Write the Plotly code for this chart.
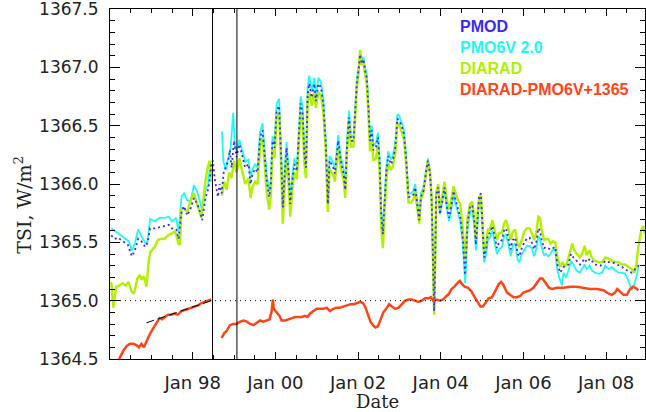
import plotly.graph_objects as go

# ---------------- data (fractional years, TSI in W/m^2) ----------------
pmod_years = [1996.03, 1996.11, 1996.19, 1996.27, 1996.35, 1996.43, 1996.53, 1996.60, 1996.68, 1996.76,
              1996.85, 1996.91, 1996.97, 1997.08, 1997.20, 1997.32, 1997.42, 1997.50, 1997.60, 1997.66,
              1997.73, 1997.79, 1997.87, 1997.95, 1998.03, 1998.11, 1998.19, 1998.23, 1998.31, 1998.37,
              1998.41, 1998.45, 1998.49, 1998.53, 1998.57, 1998.61, 1998.65, 1998.70, 1998.75, 1998.81,
              1998.86, 1998.90, 1998.94, 1999.00, 1999.06, 1999.13, 1999.19, 1999.27, 1999.35, 1999.40,
              1999.45, 1999.51, 1999.57, 1999.63, 1999.69, 1999.73, 1999.79, 1999.85, 1999.89, 1999.93,
              1999.98, 2000.03, 2000.09, 2000.14, 2000.18, 2000.23, 2000.27, 2000.32, 2000.36, 2000.41,
              2000.46, 2000.52, 2000.57, 2000.61, 2000.66, 2000.70, 2000.74, 2000.78, 2000.82, 2000.88,
              2000.94, 2000.98, 2001.04, 2001.10, 2001.16, 2001.22, 2001.27, 2001.31, 2001.36, 2001.40,
              2001.44, 2001.48, 2001.52, 2001.58, 2001.65, 2001.69, 2001.73, 2001.78, 2001.83, 2001.89,
              2001.93, 2001.97, 2002.01, 2002.05, 2002.09, 2002.13, 2002.17, 2002.21, 2002.25, 2002.29,
              2002.33, 2002.37, 2002.43, 2002.48, 2002.52, 2002.56, 2002.60, 2002.64, 2002.68, 2002.73,
              2002.79, 2002.84, 2002.90, 2002.95, 2003.00, 2003.06, 2003.11, 2003.16, 2003.22, 2003.28,
              2003.34, 2003.38, 2003.42, 2003.48, 2003.52, 2003.58, 2003.64, 2003.69, 2003.74, 2003.78,
              2003.82, 2003.84, 2003.86, 2003.89, 2003.94, 2003.98, 2004.04, 2004.09, 2004.15, 2004.20,
              2004.25, 2004.31, 2004.36, 2004.43, 2004.47, 2004.53, 2004.59, 2004.65, 2004.71, 2004.76,
              2004.81, 2004.85, 2004.89, 2004.93, 2004.97, 2005.01, 2005.05, 2005.10, 2005.14, 2005.19,
              2005.25, 2005.30, 2005.36, 2005.41, 2005.48, 2005.53, 2005.58, 2005.64, 2005.69, 2005.74,
              2005.80, 2005.86, 2005.90, 2005.96, 2006.02, 2006.08, 2006.15, 2006.20, 2006.26, 2006.31,
              2006.36, 2006.40, 2006.44, 2006.50, 2006.55, 2006.60, 2006.65, 2006.77, 2006.82, 2006.89,
              2006.97, 2007.09, 2007.15, 2007.21, 2007.29, 2007.37, 2007.48, 2007.53, 2007.61, 2007.73,
              2007.86, 2007.98, 2008.06, 2008.14, 2008.26, 2008.38, 2008.50, 2008.62, 2008.70, 2008.78,
              2008.86]
pmod = [1365.56, 1365.53, 1365.54, 1365.52, 1365.50, 1365.48, 1365.38, 1365.43, 1365.53, 1365.51,
        1365.46, 1365.50, 1365.62, 1365.62, 1365.63, 1365.64, 1365.65, 1365.62, 1365.61, 1365.53,
        1365.76, 1365.81, 1365.73, 1365.79, 1365.88, 1365.83, 1365.75, 1365.69, 1365.88, 1365.95,
        1366.03, 1366.18, 1366.20, 1366.05, 1365.95, 1365.89, 1366.00, 1365.92, 1366.10, 1366.15,
        1366.20, 1366.29, 1366.14, 1366.37, 1366.23, 1366.34, 1366.26, 1366.14, 1366.17, 1366.00,
        1366.09, 1366.13, 1366.10, 1366.40, 1366.46, 1366.31, 1366.03, 1365.89, 1366.00, 1366.37,
        1366.31, 1366.63, 1366.67, 1366.23, 1365.80, 1366.11, 1366.31, 1366.09, 1365.83, 1366.03,
        1366.17, 1366.11, 1366.43, 1366.69, 1366.60, 1366.26, 1366.14, 1366.77, 1366.86, 1366.74,
        1366.86, 1366.71, 1366.86, 1366.83, 1366.69, 1366.34, 1365.83, 1366.20, 1366.17, 1366.14,
        1366.09, 1366.23, 1366.37, 1366.20, 1366.09, 1365.95, 1366.31, 1366.57, 1366.37, 1366.37,
        1366.66, 1366.86, 1366.97, 1367.11, 1367.03, 1367.07, 1366.97, 1366.91, 1366.66, 1366.37,
        1366.46, 1366.29, 1366.31, 1366.40, 1366.20, 1365.74, 1365.57, 1365.89, 1366.09, 1366.24,
        1366.17, 1366.20, 1366.31, 1366.56, 1366.54, 1366.49, 1366.43, 1366.23, 1365.89, 1365.89,
        1365.91, 1365.97, 1365.86, 1365.69, 1365.89, 1365.94, 1366.09, 1366.20, 1366.09, 1365.86,
        1365.23, 1364.91, 1365.23, 1365.91, 1365.97, 1365.74, 1365.86, 1365.97, 1365.80, 1365.71,
        1365.80, 1365.94, 1365.86, 1365.77, 1365.72, 1365.55, 1365.22, 1365.68, 1365.80, 1365.82,
        1365.68, 1365.48, 1365.73, 1365.90, 1365.92, 1365.62, 1365.37, 1365.45, 1365.57, 1365.58,
        1365.64, 1365.56, 1365.45, 1365.50, 1365.52, 1365.60, 1365.62, 1365.53, 1365.44, 1365.52,
        1365.54, 1365.40, 1365.38, 1365.45, 1365.50, 1365.53, 1365.54, 1365.50, 1365.44, 1365.50,
        1365.62, 1365.60, 1365.52, 1365.45, 1365.46, 1365.45, 1365.44, 1365.46, 1365.31, 1365.24,
        1365.29, 1365.31, 1365.40, 1365.37, 1365.34, 1365.31, 1365.36, 1365.33, 1365.36, 1365.31,
        1365.30, 1365.34, 1365.33, 1365.33, 1365.31, 1365.29, 1365.26, 1365.24, 1365.27, 1365.30,
        1365.30]

pmo6v_years = [1996.03, 1996.11, 1996.19, 1996.27, 1996.35, 1996.45, 1996.53, 1996.60, 1996.68, 1996.76,
               1996.85, 1996.90, 1996.97, 1997.08, 1997.20, 1997.32, 1997.42, 1997.50, 1997.60, 1997.66,
               1997.73, 1997.79, 1997.87, 1997.95, 1998.03, 1998.11, 1998.19, 1998.23, 1998.31, 1998.37,
               1998.41, 1998.47, 1998.60, 1998.71, 1998.74, 1998.80, 1998.86, 1998.92, 1998.98, 1999.02,
               1999.06, 1999.13, 1999.19, 1999.27, 1999.35, 1999.40, 1999.45, 1999.51, 1999.57, 1999.63,
               1999.69, 1999.73, 1999.79, 1999.85, 1999.89, 1999.93, 1999.98, 2000.03, 2000.09, 2000.14,
               2000.18, 2000.23, 2000.27, 2000.32, 2000.36, 2000.41, 2000.46, 2000.52, 2000.57, 2000.61,
               2000.66, 2000.70, 2000.74, 2000.78, 2000.82, 2000.88, 2000.94, 2000.98, 2001.04, 2001.10,
               2001.16, 2001.22, 2001.27, 2001.31, 2001.36, 2001.40, 2001.44, 2001.48, 2001.52, 2001.58,
               2001.65, 2001.69, 2001.73, 2001.78, 2001.83, 2001.89, 2001.93, 2001.97, 2002.01, 2002.05,
               2002.09, 2002.13, 2002.17, 2002.21, 2002.25, 2002.29, 2002.33, 2002.37, 2002.43, 2002.48,
               2002.52, 2002.56, 2002.60, 2002.64, 2002.68, 2002.73, 2002.79, 2002.84, 2002.90, 2002.95,
               2003.00, 2003.06, 2003.11, 2003.16, 2003.22, 2003.28, 2003.34, 2003.38, 2003.42, 2003.48,
               2003.52, 2003.58, 2003.64, 2003.69, 2003.74, 2003.78, 2003.82, 2003.84, 2003.86, 2003.89,
               2003.94, 2003.98, 2004.04, 2004.09, 2004.15, 2004.20, 2004.25, 2004.31, 2004.36, 2004.43,
               2004.47, 2004.53, 2004.59, 2004.65, 2004.71, 2004.76, 2004.81, 2004.85, 2004.89, 2004.93,
               2004.97, 2005.01, 2005.05, 2005.10, 2005.14, 2005.19, 2005.25, 2005.30, 2005.36, 2005.41,
               2005.48, 2005.53, 2005.58, 2005.64, 2005.69, 2005.74, 2005.80, 2005.86, 2005.90, 2005.96,
               2006.02, 2006.08, 2006.15, 2006.20, 2006.26, 2006.31, 2006.36, 2006.40, 2006.44, 2006.50,
               2006.55, 2006.60, 2006.65, 2006.71, 2006.77, 2006.82, 2006.89, 2006.93, 2006.97, 2007.03,
               2007.09, 2007.15, 2007.21, 2007.28, 2007.36, 2007.42, 2007.48, 2007.53, 2007.60, 2007.65,
               2007.73, 2007.82, 2007.90, 2007.98, 2008.06, 2008.14, 2008.22, 2008.30, 2008.38, 2008.46,
               2008.54, 2008.62, 2008.68, 2008.73, 2008.78]
pmo6v = [1365.62, 1365.60, 1365.58, 1365.56, 1365.54, 1365.51, 1365.43, 1365.49, 1365.61, 1365.55,
         1365.50, 1365.49, 1365.70, 1365.68, 1365.71, 1365.71, 1365.72, 1365.68, 1365.71, 1365.59,
         1365.89, 1365.92, 1365.86, 1365.85, 1365.99, 1365.93, 1365.83, 1365.76, 1365.95, 1365.99,
         1366.12, 1366.02, None, 1366.45, 1366.20, 1366.12, 1366.22, 1366.32, 1366.61, 1366.33,
         1366.28, 1366.38, 1366.30, 1366.19, 1366.21, 1366.05, 1366.13, 1366.17, 1366.14, 1366.45,
         1366.52, 1366.35, 1366.08, 1365.94, 1366.04, 1366.41, 1366.35, 1366.69, 1366.73, 1366.27,
         1365.85, 1366.15, 1366.36, 1366.13, 1365.87, 1366.07, 1366.22, 1366.15, 1366.48, 1366.75,
         1366.65, 1366.30, 1366.18, 1366.82, 1366.93, 1366.79, 1366.91, 1366.76, 1366.91, 1366.88,
         1366.73, 1366.38, 1365.87, 1366.24, 1366.21, 1366.18, 1366.13, 1366.27, 1366.42, 1366.24,
         1366.13, 1365.99, 1366.36, 1366.63, 1366.41, 1366.41, 1366.70, 1366.90, 1367.00, 1367.13,
         1367.06, 1367.09, 1367.00, 1366.94, 1366.70, 1366.41, 1366.50, 1366.33, 1366.35, 1366.44,
         1366.24, 1365.78, 1365.61, 1365.93, 1366.13, 1366.28, 1366.21, 1366.24, 1366.35, 1366.60,
         1366.58, 1366.52, 1366.46, 1366.26, 1365.92, 1365.92, 1365.94, 1366.00, 1365.89, 1365.72,
         1365.92, 1365.97, 1366.11, 1366.22, 1366.10, 1365.87, 1365.24, 1364.93, 1365.24, 1365.92,
         1365.98, 1365.74, 1365.85, 1365.96, 1365.78, 1365.68, 1365.77, 1365.91, 1365.83, 1365.73,
         1365.68, 1365.50, 1365.15, 1365.62, 1365.76, 1365.78, 1365.64, 1365.43, 1365.70, 1365.86,
         1365.88, 1365.58, 1365.33, 1365.40, 1365.52, 1365.54, 1365.60, 1365.50, 1365.40, 1365.44,
         1365.46, 1365.55, 1365.57, 1365.48, 1365.38, 1365.47, 1365.49, 1365.35, 1365.33, 1365.40,
         1365.44, 1365.47, 1365.47, 1365.45, 1365.38, 1365.44, 1365.55, 1365.53, 1365.46, 1365.39,
         1365.40, 1365.38, 1365.40, 1365.44, 1365.43, 1365.26, 1365.17, 1365.13, 1365.24, 1365.20,
         1365.26, 1365.34, 1365.31, 1365.26, 1365.24, 1365.27, 1365.31, 1365.27, 1365.30, 1365.26,
         1365.24, 1365.23, 1365.24, 1365.30, 1365.27, 1365.29, 1365.26, 1365.24, 1365.24, 1365.23,
         1365.17, 1365.09, 1365.14, 1365.20, 1365.29]

diarad_years = [1996.03, 1996.08, 1996.15, 1996.23, 1996.31, 1996.38, 1996.45, 1996.52, 1996.58, 1996.66,
                1996.72, 1996.77, 1996.82, 1996.88, 1996.94, 1996.98, 1997.08, 1997.16, 1997.24, 1997.32,
                1997.40, 1997.48, 1997.55, 1997.60, 1997.65, 1997.69, 1997.73, 1997.79, 1997.87, 1997.95,
                1998.03, 1998.09, 1998.17, 1998.21, 1998.29, 1998.35, 1998.41, 1998.46, 1998.60, 1998.71,
                1998.76, 1998.82, 1998.88, 1998.94, 1999.00, 1999.06, 1999.13, 1999.19, 1999.27, 1999.35,
                1999.40, 1999.45, 1999.51, 1999.57, 1999.63, 1999.69, 1999.73, 1999.79, 1999.85, 1999.89,
                1999.93, 1999.98, 2000.03, 2000.09, 2000.14, 2000.18, 2000.23, 2000.27, 2000.32, 2000.36,
                2000.41, 2000.46, 2000.52, 2000.57, 2000.61, 2000.66, 2000.70, 2000.74, 2000.78, 2000.82,
                2000.88, 2000.94, 2000.98, 2001.04, 2001.10, 2001.16, 2001.22, 2001.27, 2001.31, 2001.36,
                2001.40, 2001.44, 2001.48, 2001.52, 2001.58, 2001.65, 2001.69, 2001.73, 2001.78, 2001.83,
                2001.89, 2001.93, 2001.97, 2002.01, 2002.05, 2002.09, 2002.13, 2002.17, 2002.21, 2002.25,
                2002.29, 2002.33, 2002.37, 2002.43, 2002.48, 2002.52, 2002.56, 2002.60, 2002.64, 2002.68,
                2002.73, 2002.79, 2002.84, 2002.90, 2002.95, 2003.00, 2003.06, 2003.11, 2003.16, 2003.22,
                2003.28, 2003.34, 2003.38, 2003.42, 2003.48, 2003.52, 2003.58, 2003.64, 2003.69, 2003.74,
                2003.78, 2003.82, 2003.84, 2003.86, 2003.89, 2003.94, 2003.98, 2004.04, 2004.09, 2004.15,
                2004.20, 2004.25, 2004.31, 2004.36, 2004.43, 2004.47, 2004.53, 2004.59, 2004.65, 2004.71,
                2004.76, 2004.81, 2004.85, 2004.89, 2004.93, 2004.97, 2005.01, 2005.05, 2005.10, 2005.14,
                2005.19, 2005.25, 2005.30, 2005.36, 2005.41, 2005.48, 2005.53, 2005.58, 2005.64, 2005.69,
                2005.74, 2005.80, 2005.86, 2005.90, 2005.96, 2006.02, 2006.08, 2006.15, 2006.20, 2006.26,
                2006.31, 2006.36, 2006.40, 2006.44, 2006.50, 2006.55, 2006.60, 2006.65, 2006.71, 2006.77,
                2006.82, 2006.89, 2006.95, 2007.01, 2007.07, 2007.13, 2007.18, 2007.23, 2007.29, 2007.36,
                2007.42, 2007.48, 2007.53, 2007.60, 2007.65, 2007.73, 2007.82, 2007.90, 2007.98, 2008.06,
                2008.14, 2008.22, 2008.30, 2008.38, 2008.46, 2008.54, 2008.62, 2008.68, 2008.73, 2008.78,
                2008.84, 2008.89, 2008.94]
diarad = [1365.16, 1364.94, 1365.12, 1365.13, 1365.15, 1365.13, 1365.16, 1365.08, 1365.06, 1365.19,
          1365.22, 1365.18, 1365.21, 1365.12, 1365.35, 1365.42, 1365.46, 1365.52, 1365.53, 1365.53,
          1365.56, 1365.58, 1365.59, 1365.57, 1365.49, 1365.48, 1365.79, 1365.79, 1365.76, 1365.86,
          1365.92, 1365.85, 1365.76, 1365.71, 1365.98, 1366.12, 1366.20, 1366.05, None, 1365.90,
          1366.02, 1365.95, 1366.10, 1366.05, 1366.20, 1366.10, 1366.22, 1366.12, 1366.00, 1366.05,
          1365.88, 1365.98, 1366.02, 1366.00, 1366.32, 1366.40, 1366.24, 1365.93, 1365.78, 1365.90,
          1366.30, 1366.22, 1366.57, 1366.61, 1366.15, 1365.66, 1366.02, 1366.24, 1366.00, 1365.72,
          1365.95, 1366.10, 1366.04, 1366.37, 1366.62, 1366.53, 1366.18, 1366.05, 1366.70, 1366.79,
          1366.67, 1366.79, 1366.65, 1366.79, 1366.76, 1366.62, 1366.27, 1365.76, 1366.13, 1366.10,
          1366.08, 1366.02, 1366.17, 1366.31, 1366.14, 1366.03, 1365.88, 1366.25, 1366.52, 1366.32,
          1366.32, 1366.62, 1366.82, 1366.95, 1367.15, 1367.02, 1367.05, 1366.94, 1366.86, 1366.60,
          1366.28, 1366.38, 1366.20, 1366.22, 1366.33, 1366.12, 1365.62, 1365.45, 1365.80, 1366.02,
          1366.18, 1366.12, 1366.15, 1366.26, 1366.52, 1366.50, 1366.44, 1366.38, 1366.18, 1365.84,
          1365.84, 1365.87, 1365.94, 1365.82, 1365.66, 1365.87, 1365.93, 1366.08, 1366.20, 1366.10,
          1365.88, 1365.20, 1364.88, 1365.22, 1365.93, 1366.00, 1365.78, 1365.90, 1366.02, 1365.86,
          1365.78, 1365.86, 1365.98, 1365.92, 1365.85, 1365.83, 1365.63, 1365.35, 1365.72, 1365.83,
          1365.85, 1365.72, 1365.52, 1365.75, 1365.89, 1365.91, 1365.69, 1365.41, 1365.49, 1365.61,
          1365.61, 1365.69, 1365.61, 1365.52, 1365.58, 1365.58, 1365.66, 1365.69, 1365.61, 1365.52,
          1365.59, 1365.61, 1365.48, 1365.46, 1365.52, 1365.59, 1365.62, 1365.62, 1365.58, 1365.52,
          1365.58, 1365.72, 1365.71, 1365.61, 1365.52, 1365.53, 1365.53, 1365.49, 1365.51, 1365.50,
          1365.37, 1365.29, 1365.33, 1365.29, 1365.34, 1365.43, 1365.49, 1365.43, 1365.40, 1365.37,
          1365.40, 1365.47, 1365.39, 1365.43, 1365.37, 1365.34, 1365.33, 1365.33, 1365.37, 1365.36,
          1365.34, 1365.33, 1365.33, 1365.31, 1365.31, 1365.29, 1365.27, 1365.24, 1365.31, 1365.46,
          1365.59, 1365.64, 1365.57]

diff_years = [1996.05, 1996.24, 1996.32, 1996.40, 1996.48, 1996.56, 1996.64, 1996.70, 1996.76, 1996.82,
              1996.88, 1996.96, 1997.04, 1997.12, 1997.20, 1997.26, 1997.32, 1997.40, 1997.48, 1997.56,
              1997.64, 1997.73, 1997.81, 1997.89, 1997.97, 1998.05, 1998.13, 1998.21, 1998.29, 1998.37,
              1998.45, 1998.60, 1998.70, 1998.76, 1998.82, 1998.90, 1998.98, 1999.06, 1999.15, 1999.23,
              1999.31, 1999.39, 1999.47, 1999.55, 1999.63, 1999.71, 1999.79, 1999.86, 1999.91, 1999.94,
              1999.96, 2000.03, 2000.10, 2000.15, 2000.24, 2000.32, 2000.40, 2000.48, 2000.56, 2000.64,
              2000.72, 2000.78, 2000.84, 2000.92, 2001.00, 2001.08, 2001.16, 2001.24, 2001.32, 2001.40,
              2001.48, 2001.56, 2001.64, 2001.73, 2001.82, 2001.90, 2001.98, 2002.05, 2002.12, 2002.18,
              2002.24, 2002.30, 2002.36, 2002.42, 2002.48, 2002.54, 2002.61, 2002.68, 2002.75, 2002.82,
              2002.90, 2002.98, 2003.06, 2003.14, 2003.22, 2003.30, 2003.38, 2003.46, 2003.54, 2003.62,
              2003.70, 2003.76, 2003.82, 2003.90, 2003.98, 2004.06, 2004.14, 2004.20, 2004.26, 2004.33,
              2004.40, 2004.46, 2004.52, 2004.58, 2004.66, 2004.74, 2004.82, 2004.90, 2004.96, 2005.02,
              2005.08, 2005.16, 2005.24, 2005.32, 2005.40, 2005.46, 2005.52, 2005.60, 2005.68, 2005.76,
              2005.84, 2005.92, 2006.00, 2006.08, 2006.16, 2006.24, 2006.32, 2006.40, 2006.46, 2006.54,
              2006.62, 2006.70, 2006.81, 2006.97, 2007.13, 2007.29, 2007.45, 2007.61, 2007.78, 2007.94,
              2008.06, 2008.14, 2008.22, 2008.27, 2008.33, 2008.42, 2008.50, 2008.58, 2008.65, 2008.71,
              2008.78]
diff = [1364.38, 1364.51, 1364.57, 1364.61, 1364.63, 1364.63, 1364.62, 1364.60, 1364.63, 1364.60,
        1364.65, 1364.71, 1364.76, 1364.80, 1364.85, 1364.84, 1364.86, 1364.88, 1364.88, 1364.89,
        1364.88, 1364.91, 1364.92, 1364.93, 1364.94, 1364.95, 1364.96, 1364.98, 1364.99, 1365.00,
        1365.01, None, 1364.68, 1364.72, 1364.74, 1364.79, 1364.80, 1364.80, 1364.82, 1364.83,
        1364.82, 1364.80, 1364.79, 1364.81, 1364.83, 1364.82, 1364.83, 1364.84, 1364.91, 1365.01,
        1364.93, 1364.90, 1364.87, 1364.83, 1364.83, 1364.84, 1364.85, 1364.86, 1364.86, 1364.86,
        1364.87, 1364.86, 1364.89, 1364.91, 1364.93, 1364.93, 1364.93, 1364.94, 1364.91, 1364.93,
        1364.94, 1364.94, 1364.95, 1364.96, 1364.97, 1364.97, 1364.98, 1364.99, 1364.98, 1364.94,
        1364.88, 1364.82, 1364.79, 1364.77, 1364.78, 1364.83, 1364.90, 1364.93, 1364.97, 1364.95,
        1364.93, 1364.94, 1364.97, 1365.00, 1365.01, 1365.01, 1365.00, 1364.99, 1365.00, 1365.02,
        1365.02, 1365.03, 1365.00, 1365.01, 1365.00, 1365.01, 1365.04, 1365.06, 1365.10, 1365.12,
        1365.15, 1365.17, 1365.14, 1365.12, 1365.11, 1365.08, 1365.03, 1364.98, 1364.95, 1364.95,
        1364.98, 1365.02, 1365.03, 1365.08, 1365.14, 1365.16, 1365.13, 1365.07, 1365.05, 1365.03,
        1365.03, 1365.04, 1365.07, 1365.08, 1365.09, 1365.11, 1365.15, 1365.19, 1365.19, 1365.15,
        1365.11, 1365.10, 1365.11, 1365.11, 1365.12, 1365.12, 1365.11, 1365.10, 1365.10, 1365.09,
        1365.06, 1365.05, 1365.07, 1365.10, 1365.08, 1365.05, 1365.05, 1365.10, 1365.12, 1365.11,
        1365.09]

fit_years = [1996.88, 1998.45]
fit_values = [1364.81, 1365.00]

event_years = [1998.48, 1999.07]
reference_level = 1365.0

x_range = [1996.0, 2008.94]
y_range = [1364.5, 1367.5001]
major_tick_years = [1998, 2000, 2002, 2004, 2006, 2008]
major_tick_labels = ["Jan 98", "Jan 00", "Jan 02", "Jan 04", "Jan 06", "Jan 08"]

legend_labels = ["PMOD", "PMO6V 2.0", "DIARAD", "DIARAD-PMO6V+1365"]

# ---------------- styling ----------------
C_PMOD = "#3b2cf0"
C_PMO6V = "#22f8f4"
C_DIARAD = "#b0f000"
C_DIFF = "#ff4416"

fig = go.Figure()
fig.add_trace(go.Scatter(x=pmo6v_years, y=pmo6v, mode="lines",
                         line=dict(color=C_PMO6V, width=1.8), name=legend_labels[1]))
fig.add_trace(go.Scatter(x=diarad_years, y=diarad, mode="lines",
                         line=dict(color=C_DIARAD, width=2.4), name=legend_labels[2]))
fig.add_trace(go.Scatter(x=pmod_years, y=pmod, mode="lines",
                         line=dict(color=C_PMOD, width=1.8, dash="2px,3px"), name=legend_labels[0]))
fig.add_trace(go.Scatter(x=diff_years, y=diff, mode="lines",
                         line=dict(color=C_DIFF, width=2.5), name=legend_labels[3]))
fig.add_trace(go.Scatter(x=fit_years, y=fit_values, mode="lines",
                         line=dict(color="black", width=1, dash="8px,4px"), name="fit"))

# reference dotted level and event markers
fig.add_shape(type="line", xref="paper", x0=0, x1=1, yref="y", y0=reference_level, y1=reference_level,
              line=dict(color="black", width=1, dash="1px,4px"))
for ev in event_years:
    fig.add_shape(type="line", xref="x", x0=ev, x1=ev, yref="paper", y0=0, y1=1,
                  line=dict(color="black", width=1))

tick_font = dict(family="DejaVu Sans", size=17, color="#222")

fig.update_layout(
    width=646, height=412,
    margin=dict(l=110, r=1, t=9, b=53),
    paper_bgcolor="white", plot_bgcolor="white",
    showlegend=False,
    xaxis=dict(range=x_range, tickmode="array", tickvals=major_tick_years, ticktext=major_tick_labels,
               ticks="inside", ticklen=7, tickwidth=1, tickcolor="black", automargin=False,
               showline=True, linecolor="black", linewidth=1, mirror="ticks",
               showgrid=False, zeroline=False, ticklabelstandoff=7, ticklabeloverflow="allow",
               tickfont=dict(family="DejaVu Sans", size=18, color="#222"),
               minor=dict(tickmode="linear", tick0=1996, dtick=0.5, ticks="inside", ticklen=4,
                          tickcolor="black", showgrid=False)),
    yaxis=dict(range=y_range, tickmode="linear", tick0=1364.5, dtick=0.5, tickformat=".1f",
               ticks="inside", ticklen=10, tickwidth=1, tickcolor="black", automargin=False,
               showline=True, linecolor="black", linewidth=1, mirror="ticks",
               showgrid=False, zeroline=False, ticklabelstandoff=7, ticklabeloverflow="allow",
               tickfont=tick_font,
               minor=dict(dtick=0.1, ticks="inside", ticklen=5, tickcolor="black", showgrid=False)),
)

# axis titles
fig.add_annotation(text="TSI, W/m<sup>2</sup>", textangle=-90, xref="paper", yref="paper",
                   x=-0.163, y=0.44, xanchor="center", yanchor="middle", showarrow=False,
                   font=dict(family="DejaVu Serif", size=19, color="#222"))
fig.add_annotation(text="Date", xref="paper", yref="paper", x=0.5, y=-0.12,
                   xanchor="center", yanchor="middle", showarrow=False,
                   font=dict(family="DejaVu Serif", size=18, color="#222"))

# coloured text legend
legend_colors = [C_PMOD, C_PMO6V, C_DIARAD, C_DIFF]
legend_y = [0.949, 0.889, 0.829, 0.769]
for lab, col, yy in zip(legend_labels, legend_colors, legend_y):
    fig.add_annotation(text="<b>" + lab + "</b>", xref="paper", yref="paper", x=0.650, y=yy,
                       xanchor="left", yanchor="middle", showarrow=False,
                       font=dict(family="Liberation Sans", size=16, color=col))

fig.write_html("out.html", config={"displayModeBar": False},
               post_script="document.documentElement.style.margin='0';"
                           "document.body.style.margin='0';document.body.style.padding='0';"
                           "document.body.style.overflow='hidden';")
